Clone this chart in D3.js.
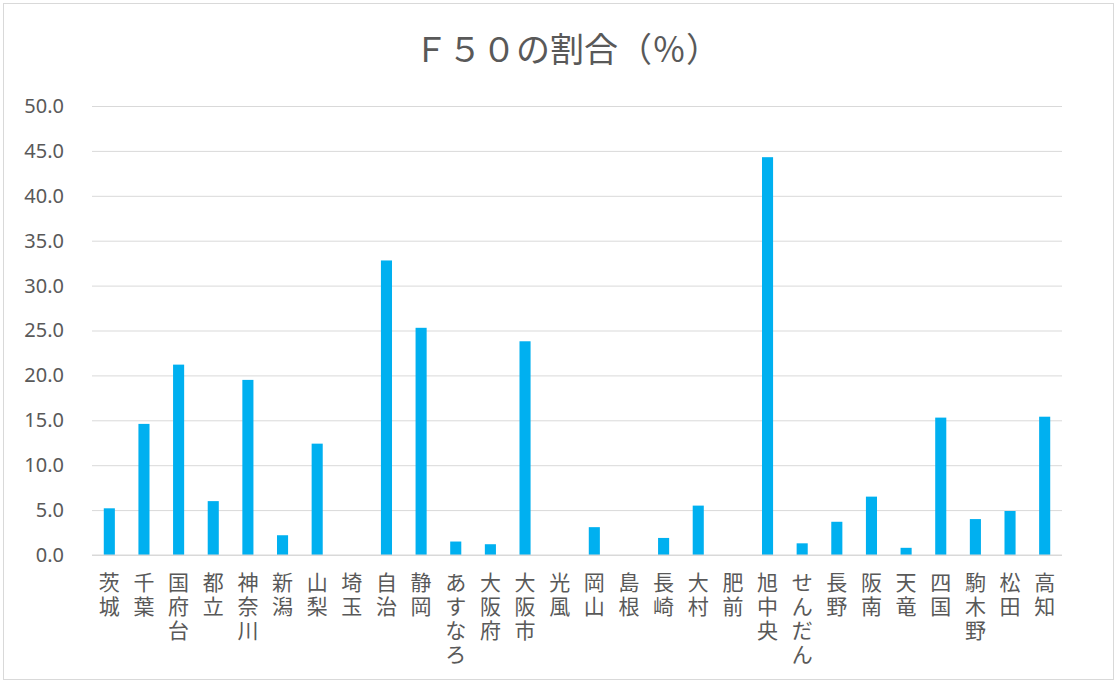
<!DOCTYPE html>
<html>
<head>
<meta charset="utf-8">
<script src="https://cdn.jsdelivr.net/npm/d3@7"></script>
<style>
  body { margin: 0; background: #fff; }
  text { font-family: "Noto Sans CJK JP", "Noto Sans", sans-serif; fill: #595959; }
</style>
</head>
<body>
<div id="chart"></div>
<script>
// F50の割合 棒グラフ

let categories = ['茨城', '千葉', '国府台', '都立', '神奈川', '新潟', '山梨', '埼玉', '自治', '静岡',
    'あすなろ', '大阪府', '大阪市', '光風', '岡山', '島根', '長崎', '大村', '肥前', '旭中央',
    'せんだん', '長野', '阪南', '天竜', '四国', '駒木野', '松田', '高知'];

let values = [5.2, 14.6, 21.2, 6.0, 19.5, 2.2, 12.4, 0, 32.8, 25.3,
    1.5, 1.2, 23.8, 0, 3.1, 0, 1.9, 5.5, 0, 44.3,
    1.3, 3.7, 6.5, 0.8, 15.3, 4.0, 4.9, 15.4];

let y_ticks = [0, 5, 10, 15, 20, 25, 30, 35, 40, 45, 50];

let title = 'Ｆ５０の割合（％）';

let chart_width = 1117;
let chart_height = 683;
let plot_left = 92, plot_right = 1062, plot_top = 106, plot_bottom = 555;

let svg = d3.select('#chart')
    .append('svg')
    .attr('width', chart_width)
    .attr('height', chart_height);

// 枠
svg.append('rect')
    .attr('x', 3.5).attr('y', 3.5)
    .attr('width', chart_width - 7).attr('height', chart_height - 7)
    .attr('fill', '#fff')
    .attr('stroke', '#d9d9d9')
    .attr('stroke-width', 1);

// スケール
let x_scale = d3.scaleBand()
    .domain(categories)
    .range([plot_left, plot_right])
    .paddingInner(0.68)
    .paddingOuter(0.34);

let y_scale = d3.scaleLinear()
    .domain([0, 50])
    .range([plot_bottom, plot_top]);

// 目盛線
let y_axis = d3.axisLeft(y_scale)
    .tickValues(y_ticks)
    .tickSize(-(plot_right - plot_left))
    .tickPadding(28)
    .tickFormat(d3.format('.1f'));

let gy = svg.append('g')
    .attr('transform', 'translate(' + plot_left + ',0)')
    .call(y_axis);
gy.select('.domain').remove();
gy.selectAll('.tick line').attr('stroke', '#d9d9d9').attr('stroke-width', 1);
gy.selectAll('.tick text')
    .attr('font-size', 20)
    .style('font-family', '"Noto Sans", sans-serif')
    .attr('fill', '#595959');

// 棒
svg.append('g').selectAll('rect')
    .data(values)
    .enter()
    .append('rect')
    .attr('x', (d, i) => x_scale(categories[i]))
    .attr('y', d => y_scale(d))
    .attr('width', x_scale.bandwidth())
    .attr('height', d => y_scale(0) - y_scale(d))
    .attr('fill', '#00b0f0');

// 横軸線
svg.append('line')
    .attr('x1', plot_left).attr('x2', plot_right)
    .attr('y1', y_scale(0)).attr('y2', y_scale(0))
    .attr('stroke', '#d9d9d9')
    .attr('stroke-width', 1);

// カテゴリラベル（縦書き）
let labels = svg.append('g').selectAll('text')
    .data(categories)
    .enter()
    .append('text')
    .attr('font-size', 21)
    .attr('text-anchor', 'middle');

labels.selectAll('tspan')
    .data(d => d.split('').map((c, j) => ({ c: c, j: j, cat: d })))
    .enter()
    .append('tspan')
    .attr('x', d => x_scale(d.cat) + x_scale.bandwidth() / 2)
    .attr('y', d => 590 + d.j * 24)
    .text(d => d.c);

// タイトル
svg.append('text')
    .attr('x', 567)
    .attr('y', 62)
    .attr('text-anchor', 'middle')
    .attr('font-size', 34)
    .text(title);
</script>
</body>
</html>
